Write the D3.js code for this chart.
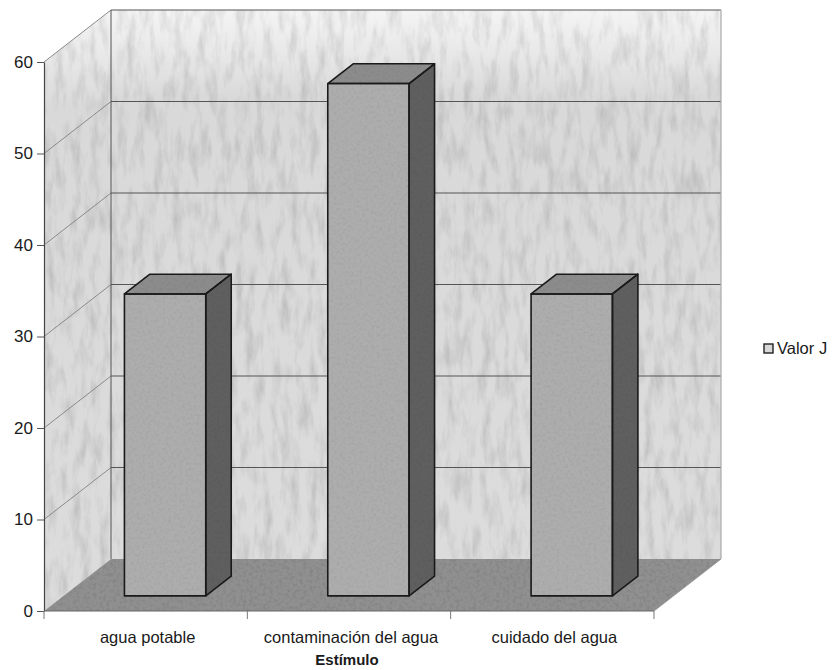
<!DOCTYPE html>
<html>
<head>
<meta charset="utf-8">
<script src="https://cdn.jsdelivr.net/npm/d3@7"></script>
<style>
  html, body { margin: 0; padding: 0; background: #fff; }
  svg { display: block; }
  text { font-family: "Liberation Sans", Arial, sans-serif; fill: #1a1a1a; }
</style>
</head>
<body>
<svg id="chart" width="834" height="670"></svg>
<script>
// Series data
const categories = ["agua potable", "contaminación del agua", "cuidado del agua"];
const values = [33, 56, 33];
const yTicks = [0, 10, 20, 30, 40, 50, 60];
const seriesName = "Valor J";
const axisTitle = "Estímulo";

const svg = d3.select("#chart");

// Front plane of the 3-D box and its receding depth offset
const X0 = 44, X1 = 654;
const DX = 67, DY = 52;
const Z0 = 0.29, Z1 = 0.67; // depth span of each column

const x = d3.scaleBand().domain(categories).range([X0, X1])
  .paddingInner(0.6).paddingOuter(0.3);
const y = d3.scaleLinear().domain([0, 60]).range([611, 62]);

const P = (px, v, z) => [px + z * DX, y(v) - z * DY];
const poly = pts => "M" + pts.map(p => p.join(",")).join("L") + "Z";

// Grain texture used on walls, floor and columns
const defs = svg.append("defs");
function grain(id, freq, amount, seed) {
  const f = defs.append("filter").attr("id", id)
    .attr("x", 0).attr("y", 0).attr("width", 1).attr("height", 1);
  f.append("feTurbulence").attr("type", "fractalNoise")
    .attr("baseFrequency", freq).attr("numOctaves", 4).attr("seed", seed).attr("result", "n");
  f.append("feColorMatrix").attr("in", "n").attr("type", "matrix")
    .attr("values", `0 0 0 0 0  0 0 0 0 0  0 0 0 0 0  0 0 0 ${amount} ${-amount * 0.42}`)
    .attr("result", "dark");
  f.append("feComposite").attr("in", "dark").attr("in2", "SourceGraphic").attr("operator", "atop");
}
grain("grainWall", "0.11 0.03", 0.55, 3);
grain("grainFine", "0.3", 0.45, 9);
grain("grainBar", "0.35", 0.25, 5);

const wallGrad = defs.append("linearGradient").attr("id", "wallGrad")
  .attr("x1", 0).attr("y1", 0).attr("x2", 0).attr("y2", 1);
wallGrad.append("stop").attr("offset", 0).attr("stop-color", "#f4f4f4");
wallGrad.append("stop").attr("offset", 0.08).attr("stop-color", "#e8e8e8");
wallGrad.append("stop").attr("offset", 0.16).attr("stop-color", "#d9d9d9");
wallGrad.append("stop").attr("offset", 1).attr("stop-color", "#dcdcdc");

// Walls and floor
const leftWall = [P(X0, 0, 0), P(X0, 60, 0), P(X0, 60, 1), P(X0, 0, 1)];
const backWall = [P(X0, 0, 1), P(X0, 60, 1), P(X1, 60, 1), P(X1, 0, 1)];
const floor = [P(X0, 0, 0), P(X1, 0, 0), P(X1, 0, 1), P(X0, 0, 1)];

svg.append("path").attr("d", poly(backWall)).attr("fill", "url(#wallGrad)")
  .attr("filter", "url(#grainWall)");
svg.append("path").attr("d", poly(leftWall)).attr("fill", "url(#wallGrad)")
  .attr("filter", "url(#grainWall)");
svg.append("path").attr("d", poly(floor)).attr("fill", "#909090")
  .attr("filter", "url(#grainFine)");

// Gridlines on both walls
const grid = svg.append("g").attr("fill", "none");
yTicks.filter(v => v > 0).forEach(v => {
  grid.append("path").attr("d", "M" + P(X0, v, 0) + "L" + P(X0, v, 1))
    .attr("stroke", "#8a8a8a").attr("stroke-width", 1);
  grid.append("path").attr("d", "M" + P(X0, v, 1) + "L" + P(X1, v, 1))
    .attr("stroke", "#555").attr("stroke-width", 1);
});
// Back wall outline
grid.append("path").attr("d", "M" + P(X0, 0, 1) + "L" + P(X0, 60, 1))
  .attr("stroke", "#555").attr("stroke-width", 1);
grid.append("path").attr("d", "M" + P(X1, 60, 1) + "L" + P(X1, 0, 1))
  .attr("stroke", "#aaa").attr("stroke-width", 1.2);
grid.append("path").attr("d", "M" + P(X1, 0, 0) + "L" + P(X1, 0, 1))
  .attr("stroke", "#999").attr("stroke-width", 1);

// Columns: front, top and side faces
const bars = svg.append("g");
categories.forEach((c, i) => {
  const xl = x(c), xr = xl + x.bandwidth(), v = values[i];
  const faces = [
    { pts: [P(xl, 0, Z0), P(xl, v, Z0), P(xr, v, Z0), P(xr, 0, Z0)], fill: "#adadad" },
    { pts: [P(xl, v, Z0), P(xl, v, Z1), P(xr, v, Z1), P(xr, v, Z0)], fill: "#8c8c8c" },
    { pts: [P(xr, 0, Z0), P(xr, v, Z0), P(xr, v, Z1), P(xr, 0, Z1)], fill: "#5f5f5f" }
  ];
  const g = bars.append("g");
  faces.forEach(f => {
    g.append("path").attr("d", poly(f.pts)).attr("fill", f.fill)
      .attr("filter", "url(#grainBar)");
  });
  // outlines drawn unfiltered so edges stay crisp
  faces.forEach(f => {
    g.append("path").attr("d", poly(f.pts)).attr("fill", "none")
      .attr("stroke", "#1a1a1a").attr("stroke-width", 1.6).attr("stroke-linejoin", "round");
  });
});

// Value axis
const yAxis = svg.append("g").attr("transform", `translate(${X0},0)`)
  .call(d3.axisLeft(y).tickValues(yTicks).tickSize(7).tickPadding(4).tickSizeOuter(0));
yAxis.select(".domain").attr("stroke", "#444").attr("stroke-width", 1.2);
yAxis.selectAll(".tick line").attr("stroke", "#555");
yAxis.selectAll(".tick text").attr("font-size", 17).attr("fill", "#1a1a1a")
  .attr("font-family", "'Liberation Sans', Arial, sans-serif");

// Category axis along the front edge of the floor
const xAxis = svg.append("g");
xAxis.append("line").attr("x1", X0).attr("x2", X1).attr("y1", y(0)).attr("y2", y(0))
  .attr("stroke", "#666").attr("stroke-width", 1.2);
d3.range(categories.length + 1).forEach(k => {
  const tx = X0 + k * x.step();
  xAxis.append("line").attr("x1", tx).attr("x2", tx).attr("y1", y(0)).attr("y2", y(0) + 8)
    .attr("stroke", "#777").attr("stroke-width", 1);
});
xAxis.selectAll("text.cat").data(categories).join("text").attr("class", "cat")
  .attr("x", d => x(d) - x.step() * x.paddingOuter() + x.step() / 2 + 2)
  .attr("y", 643).attr("text-anchor", "middle").attr("font-size", 16.5)
  .text(d => d);

svg.append("text").attr("x", 347).attr("y", 665).attr("text-anchor", "middle")
  .attr("font-size", 15).attr("font-weight", "bold").text(axisTitle);

// Legend
const leg = svg.append("g").attr("transform", "translate(764,344)");
leg.append("rect").attr("width", 9).attr("height", 9).attr("fill", "#d8d8d8")
  .attr("stroke", "#222").attr("stroke-width", 1.4);
leg.append("text").attr("x", 13).attr("y", 10).attr("font-size", 16.5).text(seriesName);
</script>
</body>
</html>
